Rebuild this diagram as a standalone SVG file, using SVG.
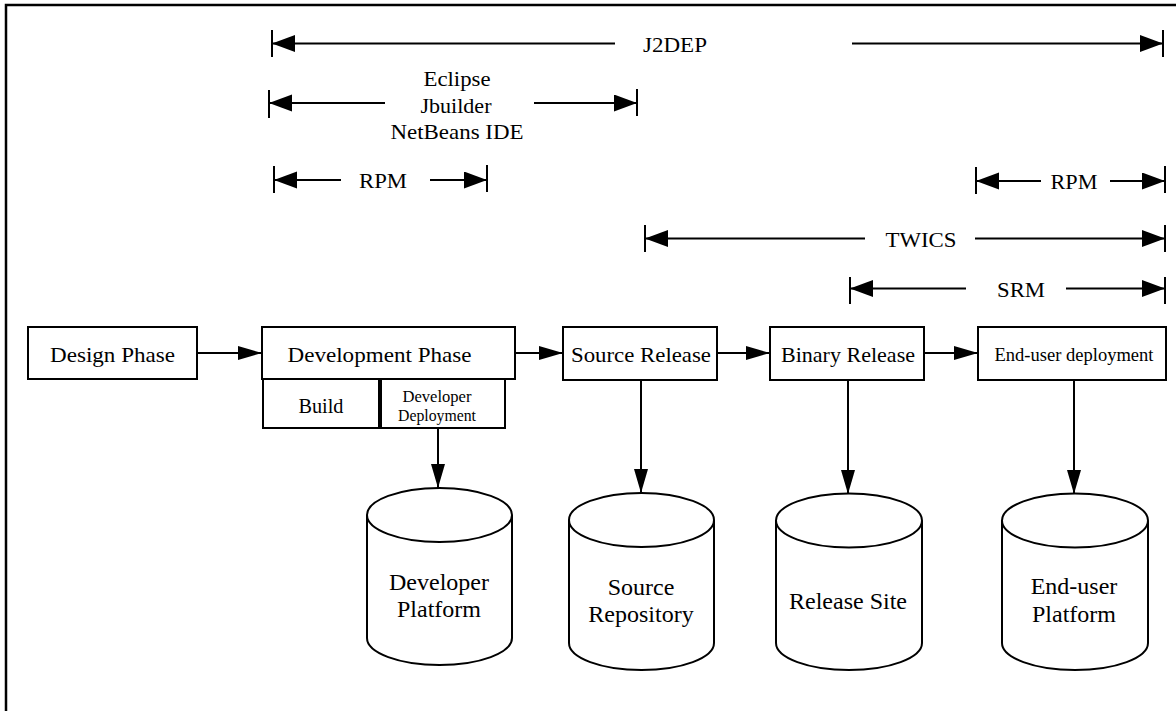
<svg xmlns="http://www.w3.org/2000/svg" width="1176" height="711" viewBox="0 0 1176 711">
<style>
  text { font-family: "Liberation Serif", "Times New Roman", serif; fill: #000; text-anchor: middle; }
  .lbl { font-size: 22px; }
  .box { fill: #fff; stroke: #000; stroke-width: 2; }
  .cyl { fill: #fff; stroke: #000; stroke-width: 2; }
  .ln { fill: none; stroke: #000; stroke-width: 2; }
  .dim { fill: none; stroke: #000; stroke-width: 2; marker-end: url(#dimArrow); }
  .tick { stroke: #000; stroke-width: 2; }
  .flow { fill: none; stroke: #000; stroke-width: 2; marker-end: url(#flowArrow); }
  .cl { font-size: 24px; }
</style>
<defs>
  <marker id="dimArrow" markerUnits="userSpaceOnUse" markerWidth="24" markerHeight="18" refX="23" refY="8.5" orient="auto">
    <path d="M0,0 L23,8.5 L0,17 Z" fill="#000"/>
  </marker>
  <marker id="flowArrow" markerUnits="userSpaceOnUse" markerWidth="25" markerHeight="15" refX="24" refY="7" orient="auto">
    <path d="M0,0 L24,7 L0,14 Z" fill="#000"/>
  </marker>
</defs>
<rect x="0" y="0" width="1176" height="711" fill="#fff"/>
<rect x="6" y="5" width="1200" height="800" fill="none" stroke="#000" stroke-width="2.5"/>

<g id="connectors">
  <!-- J2DEP -->
  <line class="tick" x1="272" y1="30" x2="272" y2="57"/>
  <line class="dim" x1="615" y1="43.5" x2="272" y2="43.5"/>
  <line class="dim" x1="852" y1="43.5" x2="1163" y2="43.5"/>
  <line class="tick" x1="1163" y1="30" x2="1163" y2="57"/>
  <!-- Eclipse -->
  <line class="tick" x1="269" y1="90" x2="269" y2="118"/>
  <line class="dim" x1="385" y1="103" x2="269" y2="103"/>
  <line class="dim" x1="534" y1="103" x2="637" y2="103"/>
  <line class="tick" x1="637" y1="89" x2="637" y2="116"/>
  <!-- RPM left -->
  <line class="tick" x1="274" y1="166" x2="274" y2="193"/>
  <line class="dim" x1="341" y1="180" x2="274" y2="180"/>
  <line class="dim" x1="430" y1="180" x2="487" y2="180"/>
  <line class="tick" x1="487" y1="165" x2="487" y2="192"/>
  <!-- RPM right -->
  <line class="tick" x1="976" y1="167" x2="976" y2="194"/>
  <line class="dim" x1="1041" y1="181" x2="976" y2="181"/>
  <line class="dim" x1="1110" y1="181" x2="1165" y2="181"/>
  <line class="tick" x1="1165" y1="166" x2="1165" y2="193"/>
  <!-- TWICS -->
  <line class="tick" x1="645" y1="225" x2="645" y2="252"/>
  <line class="dim" x1="865" y1="238.5" x2="645" y2="238.5"/>
  <line class="dim" x1="975" y1="238.5" x2="1165" y2="238.5"/>
  <line class="tick" x1="1165" y1="225" x2="1165" y2="252"/>
  <!-- SRM -->
  <line class="tick" x1="850" y1="277" x2="850" y2="304"/>
  <line class="dim" x1="966" y1="288.5" x2="850" y2="288.5"/>
  <line class="dim" x1="1066" y1="288.5" x2="1165" y2="288.5"/>
  <line class="tick" x1="1165" y1="277" x2="1165" y2="304"/>
  <!-- flow -->
  <line class="flow" x1="197" y1="353" x2="262" y2="353"/>
  <line class="flow" x1="515" y1="353" x2="563" y2="353"/>
  <line class="flow" x1="717" y1="353" x2="770" y2="353"/>
  <line class="flow" x1="924" y1="353" x2="978" y2="353"/>
  <line class="flow" x1="438" y1="428" x2="438" y2="488"/>
  <line class="flow" x1="641" y1="380" x2="641" y2="493"/>
  <line class="flow" x1="848" y1="380" x2="848" y2="494"/>
  <line class="flow" x1="1074" y1="380" x2="1074" y2="494"/>
</g>

<g id="labels">
  <text class="lbl" x="675" y="52" textLength="64" lengthAdjust="spacingAndGlyphs">J2DEP</text>
  <text class="lbl" x="457" y="86" textLength="67" lengthAdjust="spacingAndGlyphs">Eclipse</text>
  <text class="lbl" x="456" y="113" textLength="71" lengthAdjust="spacingAndGlyphs">Jbuilder</text>
  <text class="lbl" x="457" y="139" textLength="133" lengthAdjust="spacingAndGlyphs">NetBeans IDE</text>
  <text class="lbl" x="383" y="188" textLength="48" lengthAdjust="spacingAndGlyphs">RPM</text>
  <text class="lbl" x="1074" y="189" textLength="47" lengthAdjust="spacingAndGlyphs">RPM</text>
  <text class="lbl" x="921" y="247" textLength="71" lengthAdjust="spacingAndGlyphs">TWICS</text>
  <text class="lbl" x="1021" y="297" textLength="48" lengthAdjust="spacingAndGlyphs">SRM</text>
</g>

<g id="design-phase">
  <rect class="box" x="28" y="327" width="169" height="52"/>
  <text class="lbl" x="112.5" y="362" textLength="125" lengthAdjust="spacingAndGlyphs">Design Phase</text>
</g>
<g id="development-phase">
  <rect class="box" x="262" y="327" width="253" height="52"/>
  <text class="lbl" x="379.5" y="362" textLength="184" lengthAdjust="spacingAndGlyphs">Development Phase</text>
</g>
<g id="build">
  <rect class="box" x="263" y="379" width="116" height="49"/>
  <text class="lbl" x="321" y="413" textLength="45" lengthAdjust="spacingAndGlyphs">Build</text>
</g>
<g id="developer-deployment">
  <rect class="box" x="381" y="379" width="124" height="49"/>
  <text x="437" y="402" font-size="16" textLength="69" lengthAdjust="spacingAndGlyphs">Developer</text>
  <text x="437" y="421" font-size="16" textLength="78" lengthAdjust="spacingAndGlyphs">Deployment</text>
</g>
<g id="source-release">
  <rect class="box" x="563" y="327" width="154" height="53"/>
  <text class="lbl" x="641" y="362" textLength="140" lengthAdjust="spacingAndGlyphs">Source Release</text>
</g>
<g id="binary-release">
  <rect class="box" x="770" y="327" width="154" height="53"/>
  <text class="lbl" x="848" y="362" textLength="134" lengthAdjust="spacingAndGlyphs">Binary Release</text>
</g>
<g id="end-user-deployment">
  <rect class="box" x="978" y="327" width="188" height="53"/>
  <text x="1074" y="361" font-size="18" textLength="159" lengthAdjust="spacingAndGlyphs">End-user deployment</text>
</g>

<g id="developer-platform">
  <path class="cyl" d="M367,515 L367,638 A72.5,27 0 0 0 512,638 L512,515"/>
  <ellipse class="cyl" cx="439.5" cy="515" rx="72.5" ry="27"/>
  <text class="cl" x="439" y="590">Developer</text>
  <text class="cl" x="439" y="617">Platform</text>
</g>
<g id="source-repository">
  <path class="cyl" d="M569,520 L569,643 A72.5,27 0 0 0 714,643 L714,520"/>
  <ellipse class="cyl" cx="641.5" cy="520" rx="72.5" ry="27"/>
  <text class="cl" x="641" y="595">Source</text>
  <text class="cl" x="641" y="622">Repository</text>
</g>
<g id="release-site">
  <path class="cyl" d="M776,520.5 L776,643 A73,27 0 0 0 922,643 L922,520.5"/>
  <ellipse class="cyl" cx="849" cy="520.5" rx="73" ry="27"/>
  <text class="cl" x="848" y="609">Release Site</text>
</g>
<g id="end-user-platform">
  <path class="cyl" d="M1002,520.5 L1002,643 A73,27 0 0 0 1148,643 L1148,520.5"/>
  <ellipse class="cyl" cx="1075" cy="520.5" rx="73" ry="27"/>
  <text class="cl" x="1074" y="594">End-user</text>
  <text class="cl" x="1074" y="622">Platform</text>
</g>
</svg>
